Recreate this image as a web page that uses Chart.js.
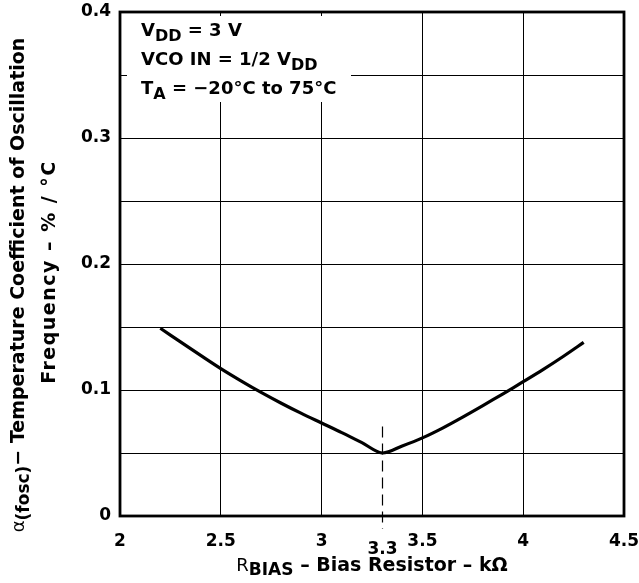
<!DOCTYPE html>
<html>
<head>
<meta charset="utf-8">
<script src="https://cdn.jsdelivr.net/npm/chart.js@4/dist/chart.umd.min.js"></script>
<style>
    html, body {
        margin: 0;
        padding: 0;
        background: #ffffff;
    }
    #wrap {
        width: 639px;
        height: 583px;
    }
</style>
</head>
<body>
<div id="wrap">
    <canvas id="tcChart" width="639" height="583"></canvas>
</div>
<script>

// R_BIAS (kOhm)
const rBias = [
    2.2, 2.3, 2.4, 2.5, 2.6, 2.7, 2.8, 2.9, 3.0, 3.1, 3.2, 3.3,
    3.4, 3.5, 3.6, 3.7, 3.8, 3.9, 4.0, 4.1, 4.2, 4.3
];

// alpha(fosc) in % / degC
const tempCoeff = [
    0.149, 0.1382, 0.1275, 0.117, 0.1073, 0.0981, 0.0895, 0.0814, 0.0738, 0.0662, 0.0582, 0.050,
    0.0556, 0.062, 0.0698, 0.0785, 0.0876, 0.097, 0.1066, 0.1164, 0.1268, 0.1378
];

const xTickLabels = ["2", "2.5", "3", "3.5", "4", "4.5"];

const yTickLabels = ["0", "", "0.1", "", "0.2", "", "0.3", "", "0.4"];

// dashed marker at the minimum
const markerX = 3.3;
const markerTop = 0.071;
const markerLabel = "3.3";

const FONT = "'DejaVu Sans', Verdana, sans-serif";

const points = rBias.map(
    function(r, i) {
        return { x: r, y: tempCoeff[i] };
    }
);

// draws text pieces in a row, some of them as subscripts
function drawRun(ctx, parts, x, y, align) {

    let total = 0;

    parts.forEach(
        function(p) {
            ctx.font = p.font;
            total += ctx.measureText(p.text).width;
        }
    );

    let cx = x;

    if (align === "center") {
        cx = x - total / 2;
    }

    parts.forEach(
        function(p) {
            ctx.font = p.font;
            ctx.fillText(p.text, cx, y + (p.dy || 0));
            cx += ctx.measureText(p.text).width;
        }
    );
}

const decorPlugin = {
    id: "decor",

    beforeDatasetsDraw: function(chart) {

        const ctx = chart.ctx;
        const area = chart.chartArea;

        // white box behind the conditions text
        ctx.save();
        ctx.fillStyle = "#ffffff";
        ctx.fillRect(area.left + 7, area.top + 4, 224, 86);
        ctx.restore();
    },

    afterDraw: function(chart) {

        const ctx = chart.ctx;
        const area = chart.chartArea;
        const xs = chart.scales.x;
        const ys = chart.scales.y;

        ctx.save();

        // frame
        ctx.strokeStyle = "#000000";
        ctx.lineWidth = 2.8;
        ctx.strokeRect(area.left, area.top, area.right - area.left, area.bottom - area.top);

        // dashed line at the minimum
        const mx = Math.round(xs.getPixelForValue(markerX)) + 0.5;
        ctx.lineWidth = 1.2;
        ctx.setLineDash([11, 6]);
        ctx.beginPath();
        ctx.moveTo(mx, ys.getPixelForValue(markerTop));
        ctx.lineTo(mx, area.bottom + 13);
        ctx.stroke();
        ctx.setLineDash([]);

        ctx.fillStyle = "#000000";
        ctx.textBaseline = "alphabetic";

        // 3.3 label
        ctx.font = "bold 17px " + FONT;
        ctx.textAlign = "center";
        ctx.fillText(markerLabel, mx, area.bottom + 38);

        ctx.textAlign = "left";

        const big = "bold 18px " + FONT;
        const sub = "bold 16px " + FONT;

        // conditions
        const tx = area.left + 21;
        drawRun(ctx, [
            { text: "V", font: big },
            { text: "DD", font: sub, dy: 5 },
            { text: " = 3 V", font: big }
        ], tx, area.top + 24, "left");

        drawRun(ctx, [
            { text: "VCO IN = 1/2 V", font: big },
            { text: "DD", font: sub, dy: 5 }
        ], tx, area.top + 53, "left");

        drawRun(ctx, [
            { text: "T", font: big },
            { text: "A", font: sub, dy: 5 },
            { text: " = \u221220\u00b0C to 75\u00b0C", font: big }
        ], tx, area.top + 82, "left");

        const title = "bold 19px " + FONT;
        const titleSub = "bold 17px " + FONT;

        // x axis title
        const midX = (area.left + area.right) / 2;
        drawRun(ctx, [
            { text: "R", font: "18px " + FONT },
            { text: "BIAS", font: titleSub, dy: 4 },
            { text: " \u2013 Bias Resistor \u2013 k\u03a9", font: title }
        ], midX, 571, "center");

        // y axis title
        ctx.translate(0, 285);
        ctx.rotate(-Math.PI / 2);

        drawRun(ctx, [
            { text: "\u03b1", font: "18px " + FONT },
            { text: "(fosc)", font: titleSub, dy: 5 },
            { text: "\u2212 Temperature Coefficient of Oscillation", font: title }
        ], 0, 24, "center");

        ctx.letterSpacing = "1.5px";
        drawRun(ctx, [
            { text: "Frequency \u2013 % / \u00b0C", font: title }
        ], 13, 55, "center");
        ctx.letterSpacing = "0px";

        ctx.restore();
    }
};

const canvas =
    document.getElementById(
        "tcChart"
    );

window.tcChart =
    new Chart(
        canvas,
        {
            type: "scatter",

            data: {
                datasets: [
                    {
                        data: points,
                        showLine: true,
                        borderColor: "#000000",
                        borderWidth: 3.2,
                        pointRadius: 0,
                        tension: 0.3,
                        fill: false
                    }
                ]
            },

            plugins: [decorPlugin],

            options: {
                responsive: false,
                animation: false,
                devicePixelRatio: 1,

                layout: {
                    padding: { left: 0, top: 12, right: 15, bottom: 0 }
                },

                plugins: {
                    legend: { display: false },
                    tooltip: { enabled: false }
                },

                scales: {
                    x: {
                        type: "linear",
                        min: 2,
                        max: 4.5,
                        afterFit: function(scale) {
                            scale.height = 67;
                            scale.paddingLeft = 0;
                            scale.paddingRight = 0;
                        },
                        ticks: {
                            stepSize: 0.5,
                            color: "#000000",
                            padding: 15,
                            maxRotation: 0,
                            font: { family: FONT, size: 17, weight: "bold" },
                            callback: function(value, index) {
                                return xTickLabels[index];
                            }
                        },
                        grid: {
                            color: "#000000",
                            lineWidth: 1,
                            drawTicks: false
                        },
                        border: { display: false }
                    },
                    y: {
                        type: "linear",
                        min: 0,
                        max: 0.4,
                        afterFit: function(scale) {
                            scale.width = 120;
                            scale.paddingTop = 0;
                            scale.paddingBottom = 0;
                        },
                        ticks: {
                            stepSize: 0.05,
                            color: "#000000",
                            padding: 9,
                            font: { family: FONT, size: 17, weight: "bold" },
                            callback: function(value, index) {
                                return yTickLabels[index];
                            }
                        },
                        grid: {
                            color: "#000000",
                            lineWidth: 1,
                            drawTicks: false
                        },
                        border: { display: false }
                    }
                }
            }
        }
    );

</script>
</body>
</html>
